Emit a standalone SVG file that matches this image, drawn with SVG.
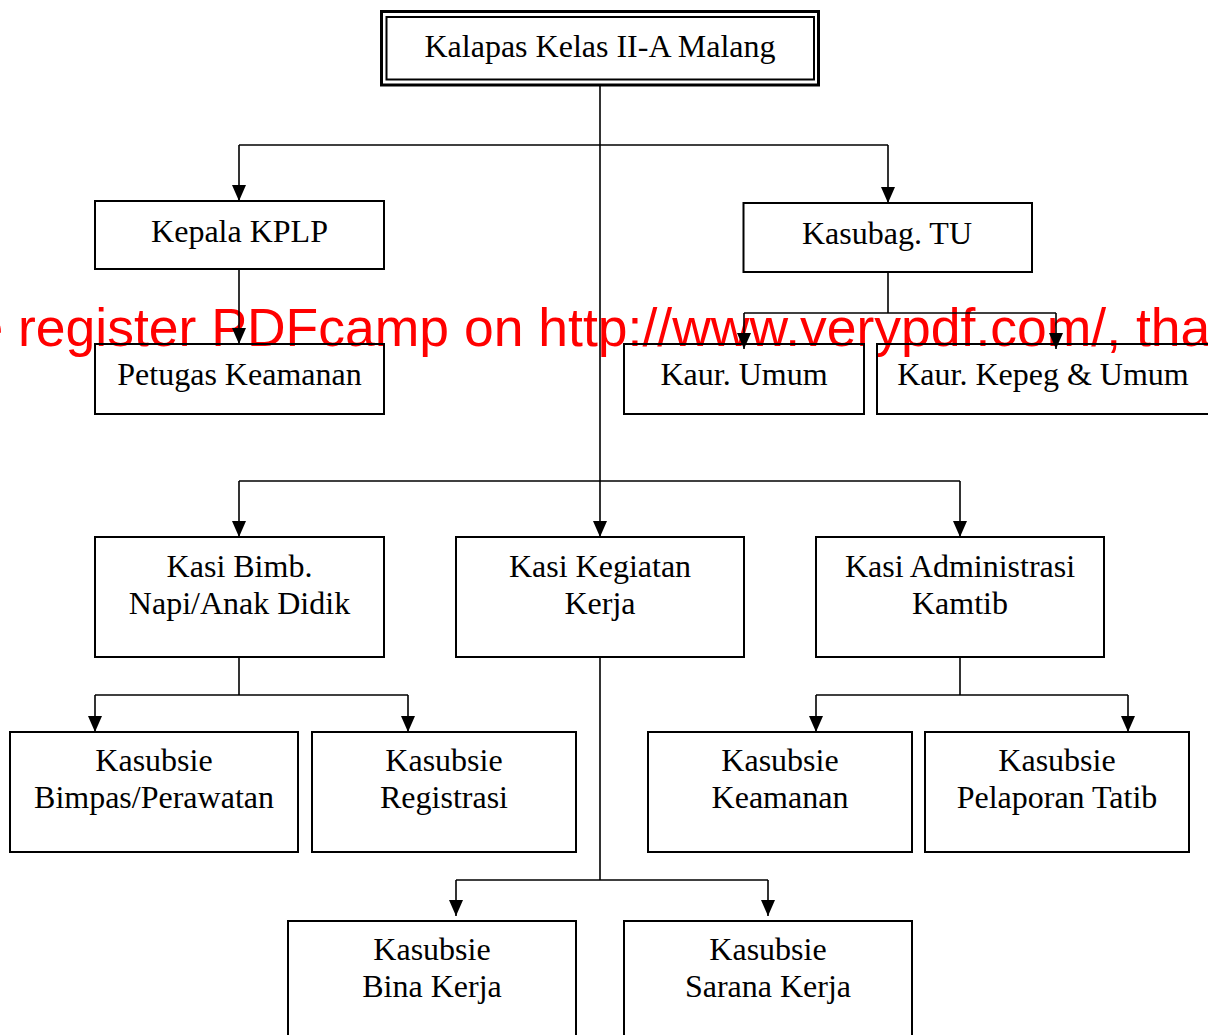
<svg xmlns="http://www.w3.org/2000/svg" width="1208" height="1035" viewBox="0 0 1208 1035">
  <defs>
    <style>
      .box { fill: none; stroke: #000; stroke-width: 2; }
      .lbl { font-family: "Liberation Serif", "Times New Roman", serif; font-size: 32px; fill: #000; text-anchor: middle; }
      .wm { font-family: "Liberation Sans", Arial, sans-serif; font-size: 53.5px; fill: #ff0000; }
      .con { fill: none; stroke: #000; stroke-width: 1.6; }
      .arr { marker-end: url(#ah); }
    </style>
    <marker id="ah" markerUnits="userSpaceOnUse" markerWidth="16" markerHeight="14" viewBox="0 0 16 14" refX="16" refY="7" orient="auto">
      <path d="M0,0 L16,7 L0,14 z" fill="#000"/>
    </marker>
  </defs>
  <rect x="0" y="0" width="1208" height="1035" fill="#fff"/>

  <text class="wm" x="-26.6" y="345.7">e register PDFcamp on http://www.verypdf.com/, tha</text>

  <g id="connectors">
    <line class="con arr" x1="600" y1="86" x2="600" y2="537"/>
    <line class="con" x1="239" y1="145" x2="888" y2="145"/>
    <line class="con arr" x1="239" y1="145" x2="239" y2="201"/>
    <line class="con arr" x1="888" y1="145" x2="888" y2="203"/>
    <line class="con arr" x1="239" y1="269" x2="239" y2="344"/>
    <line class="con" x1="888" y1="273" x2="888" y2="313"/>
    <line class="con" x1="744" y1="313" x2="1056" y2="313"/>
    <line class="con arr" x1="744" y1="313" x2="744" y2="349"/>
    <line class="con arr" x1="1056" y1="313" x2="1056" y2="349"/>
    <line class="con" x1="239" y1="481" x2="960" y2="481"/>
    <line class="con arr" x1="239" y1="481" x2="239" y2="537"/>
    <line class="con arr" x1="960" y1="481" x2="960" y2="537"/>
    <line class="con" x1="239" y1="657" x2="239" y2="695"/>
    <line class="con" x1="95" y1="695" x2="408" y2="695"/>
    <line class="con arr" x1="95" y1="695" x2="95" y2="732"/>
    <line class="con arr" x1="408" y1="695" x2="408" y2="732"/>
    <line class="con" x1="960" y1="657" x2="960" y2="695"/>
    <line class="con" x1="816" y1="695" x2="1128" y2="695"/>
    <line class="con arr" x1="816" y1="695" x2="816" y2="732"/>
    <line class="con arr" x1="1128" y1="695" x2="1128" y2="732"/>
    <line class="con" x1="600" y1="657" x2="600" y2="880"/>
    <line class="con" x1="456" y1="880" x2="768" y2="880"/>
    <line class="con arr" x1="456" y1="880" x2="456" y2="916"/>
    <line class="con arr" x1="768" y1="880" x2="768" y2="916"/>
  </g>

  <g id="kalapas">
    <rect x="381.5" y="11.5" width="437" height="73.5" fill="none" stroke="#000" stroke-width="3"/>
    <rect x="386.5" y="17" width="427.5" height="62.5" fill="none" stroke="#000" stroke-width="2"/>
    <text class="lbl" x="600" y="57">Kalapas Kelas II-A Malang</text>
  </g>
  <g id="kepala-kplp">
    <rect class="box" x="95" y="201" width="289" height="68"/>
    <text class="lbl" x="239.5" y="242">Kepala KPLP</text>
  </g>
  <g id="kasubag-tu">
    <rect class="box" x="743.5" y="203" width="288.5" height="69"/>
    <text class="lbl" x="887" y="243.5">Kasubag. TU</text>
  </g>
  <g id="petugas-keamanan">
    <rect class="box" x="95" y="344" width="289" height="70"/>
    <text class="lbl" x="239.5" y="385">Petugas Keamanan</text>
  </g>
  <g id="kaur-umum">
    <rect class="box" x="624" y="344" width="240" height="70"/>
    <text class="lbl" x="744" y="385">Kaur. Umum</text>
  </g>
  <g id="kaur-kepeg">
    <rect class="box" x="877" y="344" width="333" height="70"/>
    <text class="lbl" x="1043" y="385">Kaur. Kepeg &amp; Umum</text>
  </g>
  <g id="kasi-bimb">
    <rect class="box" x="95" y="537" width="289" height="120"/>
    <text class="lbl" x="239.5" y="577">Kasi Bimb.</text>
    <text class="lbl" x="239.5" y="614">Napi/Anak Didik</text>
  </g>
  <g id="kasi-kegiatan">
    <rect class="box" x="456" y="537" width="288" height="120"/>
    <text class="lbl" x="600" y="577">Kasi Kegiatan</text>
    <text class="lbl" x="600" y="614">Kerja</text>
  </g>
  <g id="kasi-administrasi">
    <rect class="box" x="816" y="537" width="288" height="120"/>
    <text class="lbl" x="960" y="577">Kasi Administrasi</text>
    <text class="lbl" x="960" y="614">Kamtib</text>
  </g>
  <g id="kasubsie-bimpas">
    <rect class="box" x="10" y="732" width="288" height="120"/>
    <text class="lbl" x="154" y="771">Kasubsie</text>
    <text class="lbl" x="154" y="808">Bimpas/Perawatan</text>
  </g>
  <g id="kasubsie-registrasi">
    <rect class="box" x="312" y="732" width="264" height="120"/>
    <text class="lbl" x="444" y="771">Kasubsie</text>
    <text class="lbl" x="444" y="808">Registrasi</text>
  </g>
  <g id="kasubsie-keamanan">
    <rect class="box" x="648" y="732" width="264" height="120"/>
    <text class="lbl" x="780" y="771">Kasubsie</text>
    <text class="lbl" x="780" y="808">Keamanan</text>
  </g>
  <g id="kasubsie-pelaporan">
    <rect class="box" x="925" y="732" width="264" height="120"/>
    <text class="lbl" x="1057" y="771">Kasubsie</text>
    <text class="lbl" x="1057" y="808">Pelaporan Tatib</text>
  </g>
  <g id="kasubsie-bina">
    <rect class="box" x="288" y="921" width="288" height="130"/>
    <text class="lbl" x="432" y="960">Kasubsie</text>
    <text class="lbl" x="432" y="997">Bina Kerja</text>
  </g>
  <g id="kasubsie-sarana">
    <rect class="box" x="624" y="921" width="288" height="130"/>
    <text class="lbl" x="768" y="960">Kasubsie</text>
    <text class="lbl" x="768" y="997">Sarana Kerja</text>
  </g>
</svg>
